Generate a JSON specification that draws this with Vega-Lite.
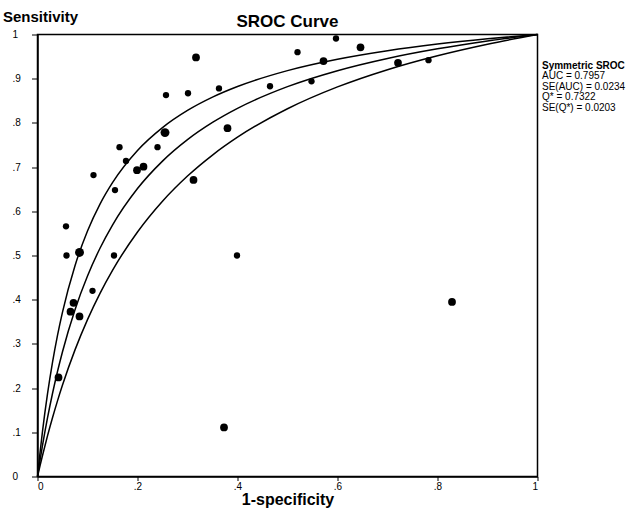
{
  "$schema": "https://vega.github.io/schema/vega-lite/v6.json",
  "width": 500,
  "height": 442,
  "autosize": {"type": "none"},
  "padding": {"left": 37.5, "top": 34.5, "right": 99.5, "bottom": 34.5},
  "background": "white",
  "title": {"text": "SROC Curve", "font": "Liberation Sans", "fontSize": 17, "fontWeight": "bold", "color": "black", "anchor": "middle", "frame": "group", "baseline": "alphabetic", "offset": 8, "dy": 42},
  "config": {
    "view": {"stroke": "black", "strokeWidth": 1.5},
    "axis": {"grid": false, "domainColor": "black", "tickColor": "black", "labelColor": "black", "titleColor": "black", "labelFont": "Liberation Sans", "titleFont": "Liberation Sans", "labelFontSize": 10, "domainWidth": 1.5, "tickWidth": 1}
  },
  "datasets": {
    "curves": [
      {"curve": "upper", "fpr": 0, "sens": 0},
      {"curve": "upper", "fpr": 0.005, "sens": 0.0535},
      {"curve": "upper", "fpr": 0.01, "sens": 0.102},
      {"curve": "upper", "fpr": 0.02, "sens": 0.1867},
      {"curve": "upper", "fpr": 0.03, "sens": 0.2581},
      {"curve": "upper", "fpr": 0.04, "sens": 0.3191},
      {"curve": "upper", "fpr": 0.05, "sens": 0.3718},
      {"curve": "upper", "fpr": 0.075, "sens": 0.4769},
      {"curve": "upper", "fpr": 0.1, "sens": 0.5555},
      {"curve": "upper", "fpr": 0.125, "sens": 0.6164},
      {"curve": "upper", "fpr": 0.15, "sens": 0.6649},
      {"curve": "upper", "fpr": 0.2, "sens": 0.7376},
      {"curve": "upper", "fpr": 0.25, "sens": 0.7894},
      {"curve": "upper", "fpr": 0.3, "sens": 0.8282},
      {"curve": "upper", "fpr": 0.35, "sens": 0.8583},
      {"curve": "upper", "fpr": 0.4, "sens": 0.8823},
      {"curve": "upper", "fpr": 0.5, "sens": 0.9183},
      {"curve": "upper", "fpr": 0.6, "sens": 0.944},
      {"curve": "upper", "fpr": 0.7, "sens": 0.9633},
      {"curve": "upper", "fpr": 0.8, "sens": 0.9783},
      {"curve": "upper", "fpr": 0.9, "sens": 0.9902},
      {"curve": "upper", "fpr": 1, "sens": 1},
      {"curve": "sroc", "fpr": 0, "sens": 0},
      {"curve": "sroc", "fpr": 0.005, "sens": 0.0362},
      {"curve": "sroc", "fpr": 0.01, "sens": 0.0702},
      {"curve": "sroc", "fpr": 0.02, "sens": 0.1324},
      {"curve": "sroc", "fpr": 0.03, "sens": 0.1878},
      {"curve": "sroc", "fpr": 0.04, "sens": 0.2375},
      {"curve": "sroc", "fpr": 0.05, "sens": 0.2823},
      {"curve": "sroc", "fpr": 0.075, "sens": 0.3774},
      {"curve": "sroc", "fpr": 0.1, "sens": 0.4537},
      {"curve": "sroc", "fpr": 0.125, "sens": 0.5164},
      {"curve": "sroc", "fpr": 0.15, "sens": 0.5688},
      {"curve": "sroc", "fpr": 0.2, "sens": 0.6514},
      {"curve": "sroc", "fpr": 0.25, "sens": 0.7136},
      {"curve": "sroc", "fpr": 0.3, "sens": 0.7621},
      {"curve": "sroc", "fpr": 0.35, "sens": 0.801},
      {"curve": "sroc", "fpr": 0.4, "sens": 0.8329},
      {"curve": "sroc", "fpr": 0.5, "sens": 0.882},
      {"curve": "sroc", "fpr": 0.6, "sens": 0.9181},
      {"curve": "sroc", "fpr": 0.7, "sens": 0.9458},
      {"curve": "sroc", "fpr": 0.8, "sens": 0.9676},
      {"curve": "sroc", "fpr": 0.9, "sens": 0.9854},
      {"curve": "sroc", "fpr": 1, "sens": 1},
      {"curve": "lower", "fpr": 0, "sens": 0},
      {"curve": "lower", "fpr": 0.005, "sens": 0.0243},
      {"curve": "lower", "fpr": 0.01, "sens": 0.0476},
      {"curve": "lower", "fpr": 0.02, "sens": 0.0918},
      {"curve": "lower", "fpr": 0.03, "sens": 0.1328},
      {"curve": "lower", "fpr": 0.04, "sens": 0.1711},
      {"curve": "lower", "fpr": 0.05, "sens": 0.2068},
      {"curve": "lower", "fpr": 0.075, "sens": 0.2865},
      {"curve": "lower", "fpr": 0.1, "sens": 0.355},
      {"curve": "lower", "fpr": 0.125, "sens": 0.4144},
      {"curve": "lower", "fpr": 0.15, "sens": 0.4664},
      {"curve": "lower", "fpr": 0.2, "sens": 0.5532},
      {"curve": "lower", "fpr": 0.25, "sens": 0.6228},
      {"curve": "lower", "fpr": 0.3, "sens": 0.6798},
      {"curve": "lower", "fpr": 0.35, "sens": 0.7273},
      {"curve": "lower", "fpr": 0.4, "sens": 0.7676},
      {"curve": "lower", "fpr": 0.5, "sens": 0.832},
      {"curve": "lower", "fpr": 0.6, "sens": 0.8814},
      {"curve": "lower", "fpr": 0.7, "sens": 0.9204},
      {"curve": "lower", "fpr": 0.8, "sens": 0.952},
      {"curve": "lower", "fpr": 0.9, "sens": 0.9781},
      {"curve": "lower", "fpr": 1, "sens": 1}
    ],
    "studies": [
      {"fpr": 0.042, "sens": 0.224, "weight": 2},
      {"fpr": 0.057, "sens": 0.566, "weight": 1},
      {"fpr": 0.058, "sens": 0.5, "weight": 1},
      {"fpr": 0.084, "sens": 0.507, "weight": 3},
      {"fpr": 0.066, "sens": 0.373, "weight": 2},
      {"fpr": 0.072, "sens": 0.393, "weight": 2},
      {"fpr": 0.084, "sens": 0.362, "weight": 2},
      {"fpr": 0.11, "sens": 0.42, "weight": 1},
      {"fpr": 0.112, "sens": 0.682, "weight": 1},
      {"fpr": 0.153, "sens": 0.5, "weight": 1},
      {"fpr": 0.155, "sens": 0.648, "weight": 1},
      {"fpr": 0.164, "sens": 0.745, "weight": 1},
      {"fpr": 0.177, "sens": 0.714, "weight": 1},
      {"fpr": 0.199, "sens": 0.693, "weight": 2},
      {"fpr": 0.212, "sens": 0.701, "weight": 2},
      {"fpr": 0.24, "sens": 0.745, "weight": 1},
      {"fpr": 0.255, "sens": 0.778, "weight": 3},
      {"fpr": 0.257, "sens": 0.863, "weight": 1},
      {"fpr": 0.301, "sens": 0.867, "weight": 1},
      {"fpr": 0.317, "sens": 0.948, "weight": 2},
      {"fpr": 0.312, "sens": 0.671, "weight": 2},
      {"fpr": 0.363, "sens": 0.878, "weight": 1},
      {"fpr": 0.38, "sens": 0.788, "weight": 2},
      {"fpr": 0.399, "sens": 0.5, "weight": 1},
      {"fpr": 0.373, "sens": 0.111, "weight": 2},
      {"fpr": 0.465, "sens": 0.883, "weight": 1},
      {"fpr": 0.52, "sens": 0.96, "weight": 1},
      {"fpr": 0.548, "sens": 0.894, "weight": 1},
      {"fpr": 0.572, "sens": 0.94, "weight": 2},
      {"fpr": 0.597, "sens": 0.991, "weight": 1},
      {"fpr": 0.646, "sens": 0.971, "weight": 2},
      {"fpr": 0.721, "sens": 0.936, "weight": 2},
      {"fpr": 0.782, "sens": 0.942, "weight": 1},
      {"fpr": 0.829, "sens": 0.395, "weight": 2}
    ]
  },
  "layer": [
    {
      "data": {"name": "curves"},
      "mark": {"type": "line", "color": "black", "strokeWidth": 1.5, "interpolate": "monotone"},
      "encoding": {
        "x": {"field": "fpr", "type": "quantitative", "scale": {"domain": [0, 1], "nice": false},
          "axis": {"values": [0, 0.2, 0.4, 0.6, 0.8, 1], "labelExpr": "datum.value == 0 ? '0' : datum.value == 1 ? '1' : '.' + round(datum.value * 10)", "tickSize": 4, "labelPadding": 1, "title": "1-specificity", "titleFontSize": 16, "titleFontWeight": "bold", "titleBaseline": "alphabetic", "titleY": 28}},
        "y": {"field": "sens", "type": "quantitative", "scale": {"domain": [0, 1], "nice": false},
          "axis": {"values": [0, 0.1, 0.2, 0.3, 0.4, 0.5, 0.6, 0.7, 0.8, 0.9, 1], "labelExpr": "datum.value == 0 ? '0' : datum.value == 1 ? '1' : '.' + round(datum.value * 10)", "tickSize": 6, "labelAlign": "left", "labelPadding": 19.5, "title": "Sensitivity", "titleAngle": 0, "titleAlign": "left", "titleBaseline": "alphabetic", "titleX": -35, "titleY": -13, "titleFontSize": 15, "titleFontWeight": "bold"}},
        "detail": {"field": "curve"}
      }
    },
    {
      "data": {"name": "studies"},
      "mark": {"type": "circle", "color": "black", "opacity": 1},
      "encoding": {
        "x": {"field": "fpr", "type": "quantitative"},
        "y": {"field": "sens", "type": "quantitative"},
        "size": {"field": "weight", "type": "quantitative", "scale": {"domain": [1, 3], "range": [40, 80]}, "legend": null}
      }
    },
    {
      "data": {"values": [{}]},
      "mark": {"type": "text", "text": "Symmetric SROC", "font": "Liberation Sans", "fontSize": 10, "fontWeight": "bold", "align": "left", "baseline": "middle", "clip": false, "color": "black"},
      "encoding": {"x": {"datum": 1.009}, "y": {"datum": 0.928}}
    },
    {
      "data": {"values": [{}]},
      "mark": {"type": "text", "text": ["AUC = 0.7957", "SE(AUC) = 0.0234", "Q* = 0.7322", "SE(Q*) = 0.0203"], "font": "Liberation Sans", "fontSize": 10, "lineHeight": 10.5, "align": "left", "baseline": "middle", "clip": false, "color": "black"},
      "encoding": {"x": {"datum": 1.009}, "y": {"datum": 0.905}}
    }
  ]
}
